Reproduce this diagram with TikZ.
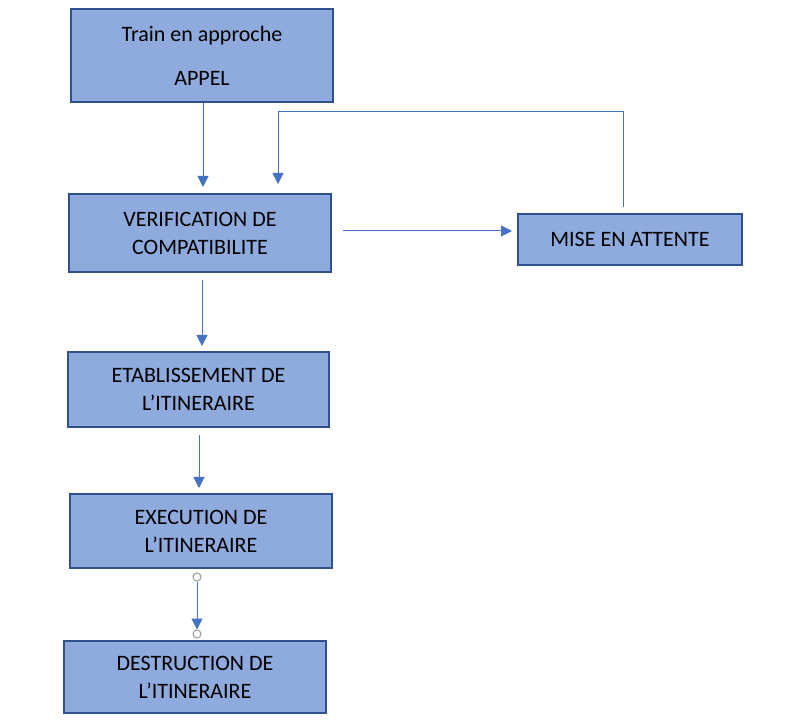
\documentclass[tikz,border=0pt]{standalone}
\usepackage{fontspec}
\setmainfont{Carlito}
\usetikzlibrary{arrows.meta}
\definecolor{boxfill}{HTML}{8FAADC}
\definecolor{boxdraw}{HTML}{2F528F}
\definecolor{arrblue}{HTML}{4472C4}
\begin{document}
\begin{tikzpicture}[x=1pt,y=-1pt,
  box/.style={draw=boxdraw,fill=boxfill,line width=2pt,rectangle,inner sep=0pt,
    align=center,font=\fontsize{22}{28}\selectfont,text=black},
  arr/.style={draw=arrblue,line width=1pt,-{Triangle[width=11pt,length=11pt]}},
  dot/.style={circle,draw=gray!80,fill=white,line width=1pt,minimum size=8pt,inner sep=0pt}]
\useasboundingbox[fill=white] (0,0) rectangle (788,727);
\node[box,minimum width=262pt,minimum height=93pt] (top) at (202,55.5) {Train en approche\\[16pt]APPEL};
\node[box,minimum width=262pt,minimum height=78pt] (ver) at (200,233) {VERIFICATION DE\\COMPATIBILITE};
\node[box,minimum width=224pt,minimum height=51pt] (mise) at (630,239.5) {MISE EN ATTENTE};
\node[box,minimum width=261pt,minimum height=75pt] (eta) at (198.5,389.5) {ETABLISSEMENT DE\\L’ITINERAIRE};
\node[box,minimum width=262pt,minimum height=74pt] (exe) at (201,531) {EXECUTION DE\\L’ITINERAIRE};
\node[box,minimum width=262pt,minimum height=72pt] (des) at (195,677) {DESTRUCTION DE\\L’ITINERAIRE};
\coordinate (a1) at (203,187);
\coordinate (f0) at (623,207);
\coordinate (f1) at (623,112);
\coordinate (f2) at (278,112);
\coordinate (f3) at (278,184);
\coordinate (h0) at (343,231);
\coordinate (h1) at (512,231);
\coordinate (b0) at (202,280);
\coordinate (b1) at (202,346);
\coordinate (c0) at (199,435);
\coordinate (c1) at (199,488);
\node[dot] (d0) at (197,577) {};
\node[dot] (d1) at (197,634) {};
\draw[arr] (top.south -| a1) -- (a1);
\draw[arr] (f0) -- (f1) -- (f2) -- (f3);
\draw[arr] (h0) -- (h1);
\draw[arr] (b0) -- (b1);
\draw[arr] (c0) -- (c1);
\draw[arr] (d0) -- (d1.north);
\end{tikzpicture}
\end{document}
